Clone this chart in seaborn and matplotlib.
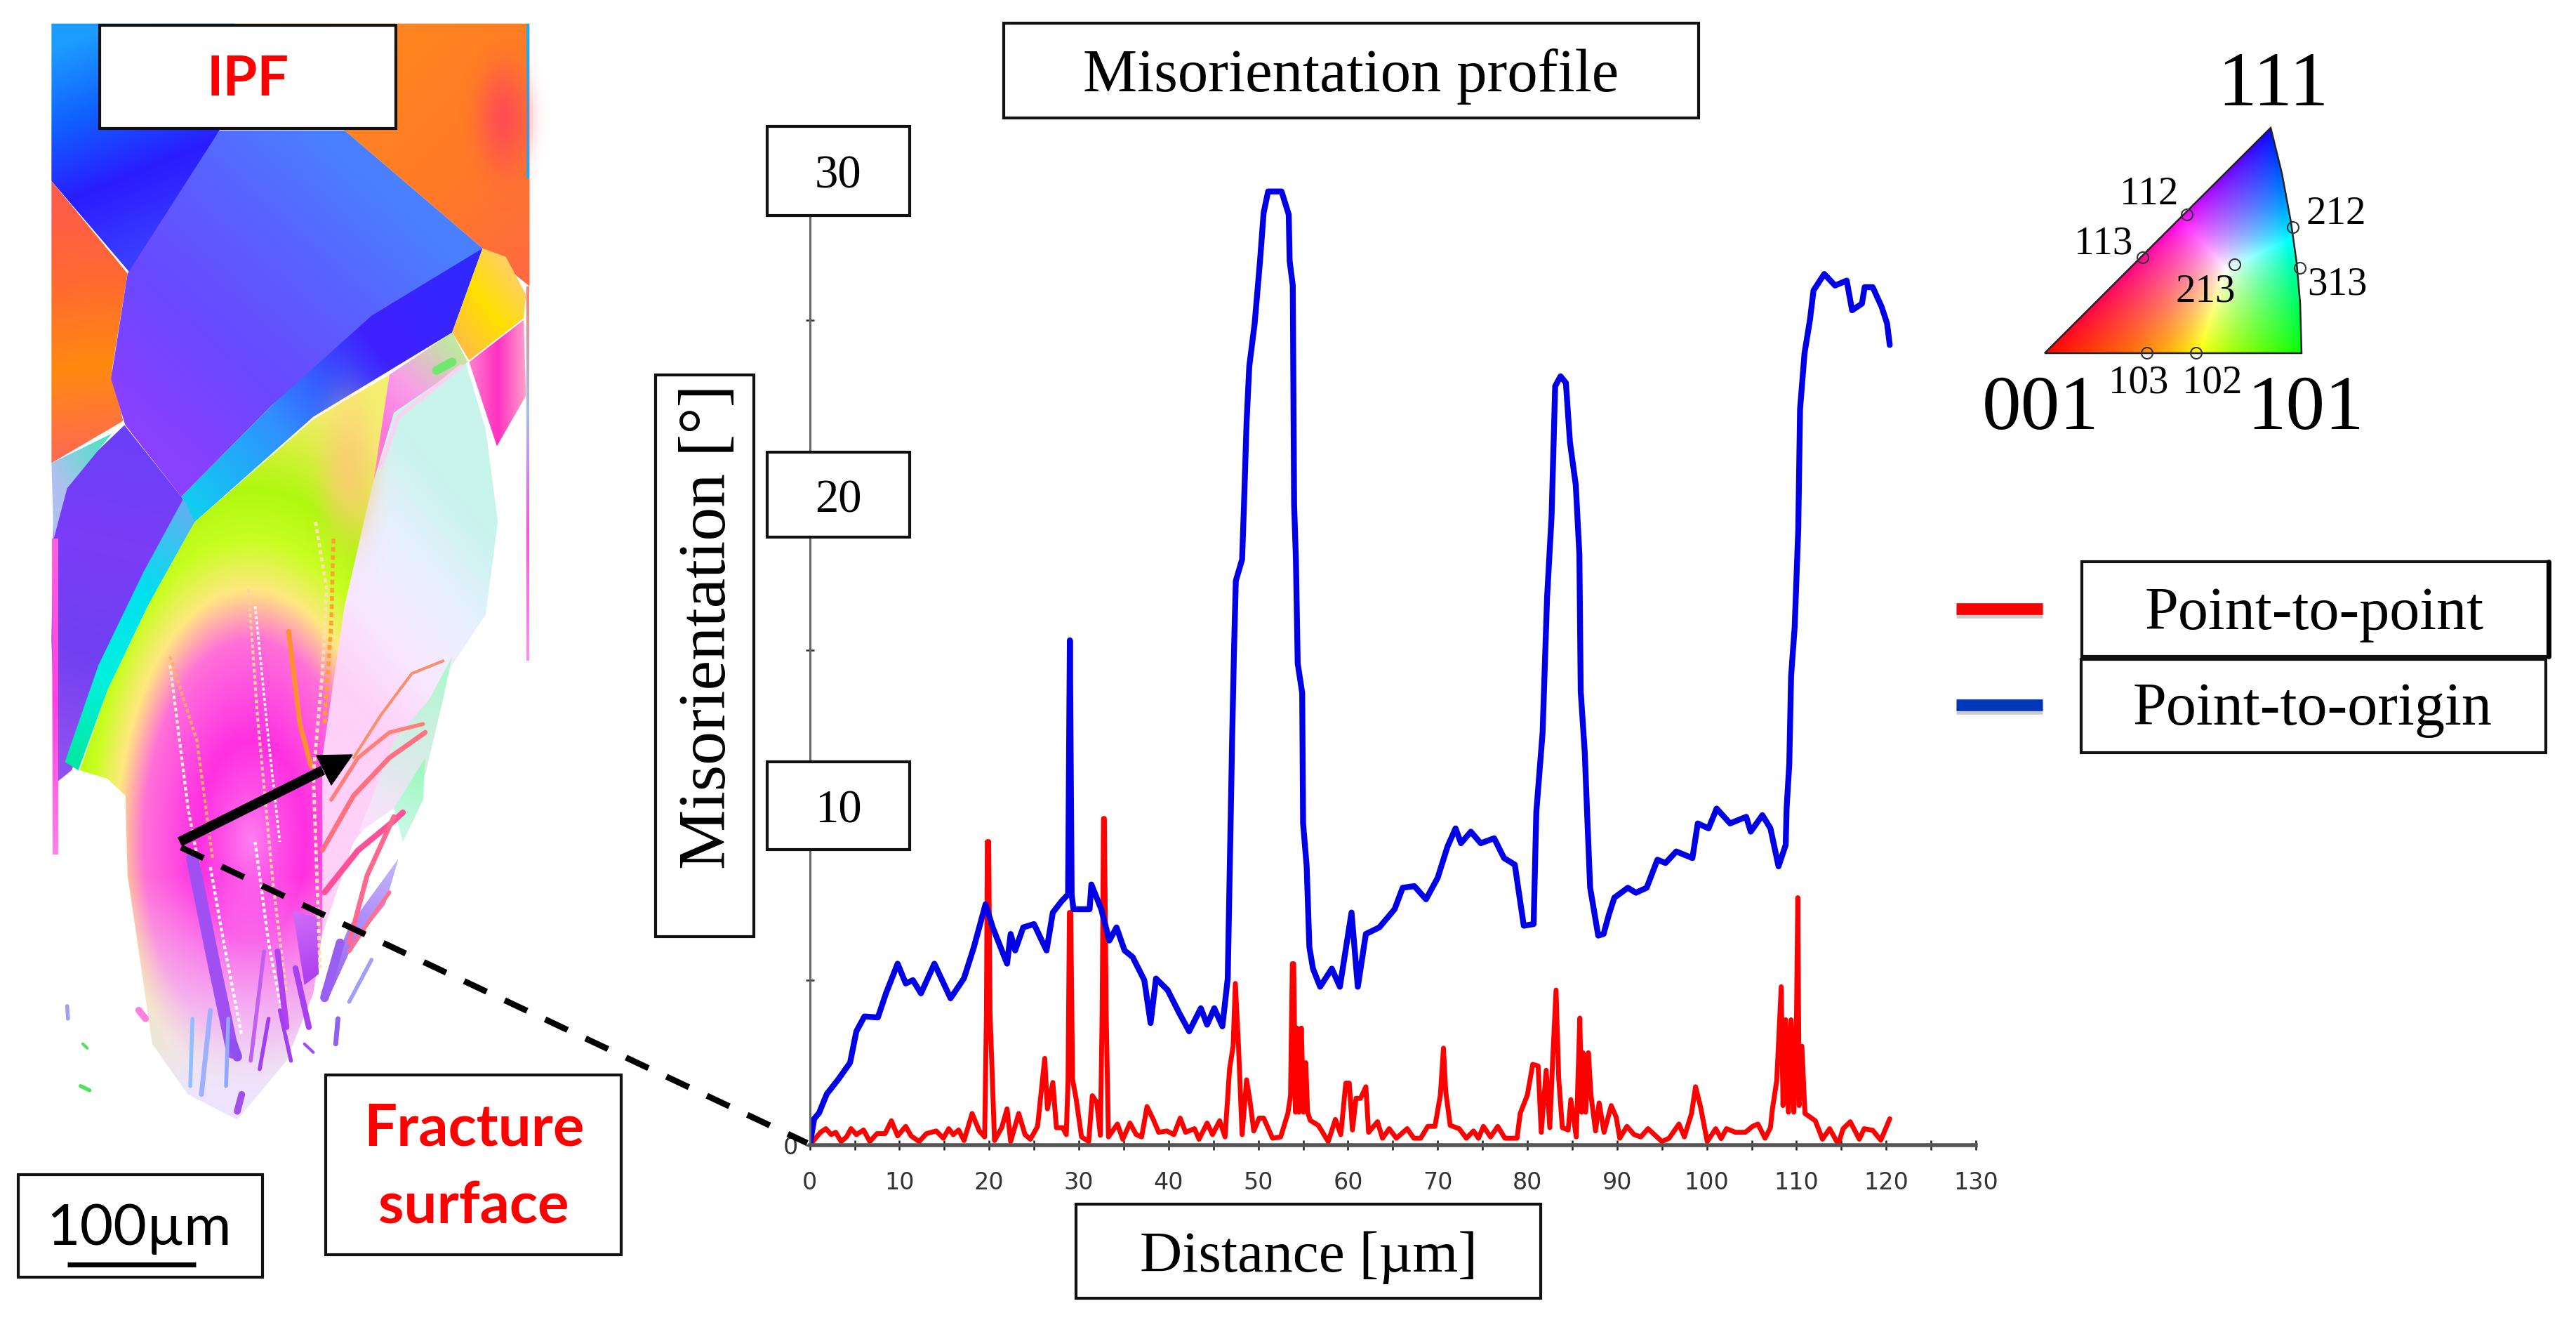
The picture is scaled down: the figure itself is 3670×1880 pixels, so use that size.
import numpy as np
import pandas as pd
import matplotlib.pyplot as plt
from matplotlib.colors import to_rgb
from matplotlib.patches import Polygon, Rectangle, Circle
import seaborn as sns

sns.set_theme(style="white")
plt.rcParams['font.family'] = ['DejaVu Sans']

SERIF = 'Liberation Serif'
SANS = 'Lato'

# misorientation profile values
origin_x = [0, 0.5, 1.05, 1.9, 3.2, 4.5, 5.2, 6.1, 7.6, 8.5, 9.8, 10.7, 11.5, 12.4, 13.9, 15.7, 17.2, 18.3, 19.6, 20.4,
            22, 22.4, 22.9, 23.8, 25, 26.4, 27.1, 28.1, 28.8, 29, 29.2, 29.4, 31.2, 31.4, 32.5, 33.4, 34.2, 35.1, 36, 37.3,
            38, 38.6, 39.9, 41.2, 42.3, 43.6, 44.3, 45.1, 46, 46.6, 46.8, 47.1, 47.3, 47.5, 48.2, 48.4, 48.7, 49, 49.6, 50.2,
            50.6, 51.1, 52.6, 53.4, 53.5, 53.85, 54, 54.2, 54.4, 54.9, 55, 55.4, 55.7, 56.1, 56.9, 58.2, 59.1, 60.4, 61.1, 62,
            63.5, 65.2, 66.1, 67.4, 68.7, 70, 71.1, 72, 72.6, 73.7, 74.8, 76.3, 77.4, 78.6, 79.6, 80.7, 81, 81.7, 82.2, 82.7,
            83.1, 83.7, 84.3, 84.75, 85.4, 85.8, 85.95, 86.4, 86.7, 87, 87.9, 88.5, 89.1, 89.7, 91.2, 92.1, 93.3, 94.5, 95.4, 96.6,
            98.4, 99, 100.2, 101.1, 102.6, 104.4, 104.9, 106.2, 107.1, 108, 108.8, 108.9, 109.2, 109.4, 109.8, 110.2, 110.4, 110.9, 111.5, 111.9,
            113.1, 114.3, 115.6, 116.2, 117.3, 117.6, 118.5, 119.5, 120.1, 120.4]
origin_y = [0, 0.8, 0.98, 1.55, 2.0, 2.5, 3.45, 3.9, 3.87, 4.6, 5.5, 4.9, 5.0, 4.6, 5.5, 4.45, 5.06, 6.0, 7.3, 6.6,
            5.5, 6.4, 5.9, 6.6, 6.7, 5.9, 7.05, 7.4, 7.6, 15.3, 7.6, 7.15, 7.15, 7.9, 7.15, 6.2, 6.6, 5.9, 5.7, 5.0,
            3.7, 5.05, 4.7, 4.0, 3.45, 4.15, 3.65, 4.15, 3.6, 5.05, 8.05, 12.45, 15, 17.1, 17.75, 19.3, 21.9, 23.6, 24.9, 26.8,
            28.25, 28.9, 28.9, 28.2, 26.8, 26.05, 19.4, 17.75, 14.6, 13.7, 9.75, 8.45, 6.0, 5.35, 4.8, 5.35, 4.8, 7.05, 4.8, 6.4,
            6.6, 7.15, 7.8, 7.85, 7.45, 8.1, 9.05, 9.6, 9.15, 9.5, 9.15, 9.3, 8.7, 8.5, 6.65, 6.7, 10.1, 12.5, 16.6, 19.05,
            23, 23.3, 23.1, 21.3, 20, 17.9, 13.75, 11.9, 9.8, 7.8, 6.35, 6.4, 7.0, 7.5, 7.8, 7.65, 7.8, 8.65, 8.55, 8.9,
            8.7, 9.75, 9.6, 10.2, 9.75, 9.95, 9.5, 10, 9.6, 8.45, 9.1, 10.2, 11.55, 14.2, 15.7, 18.65, 22.3, 24, 25, 25.9,
            26.4, 26.05, 26.2, 25.3, 25.5, 26, 26, 25.4, 24.9, 24.25]

point_x = [0, 1.2, 1.8, 2.4, 2.9, 3.5, 4.1, 4.6, 5.2, 6.0, 6.7, 7.5, 8.4, 9.1, 9.8, 10.7, 11.3, 12.2, 13.0, 14.1,
           14.9, 15.5, 16.0, 16.6, 17.2, 18.1, 18.9, 19.5, 19.7, 19.8, 19.95, 20.1, 20.6, 21.4, 22, 22.4, 23.3, 24, 24.6, 25.4,
           26.2, 26.5, 27.1, 27.5, 28.2, 28.6, 28.8, 28.95, 29.1, 29.3, 29.7, 30.3, 31.1, 31.5, 32, 32.4, 32.6, 32.75, 32.85, 33.05,
           33.3, 34.3, 34.9, 35.7, 36.4, 37, 37.6, 38.3, 38.9, 39.8, 40.6, 41.3, 41.9, 42.9, 43.4, 44.3, 44.9, 45.7, 46.3, 46.8,
           47.2, 47.45, 47.8, 48.2, 48.7, 49.1, 49.5, 50.1, 50.6, 51.6, 52.5, 53.3, 53.6, 53.8, 53.95, 54.15, 54.3, 54.55, 54.8, 55.05, 55.3, 55.5, 55.8,
           56.7, 57.8, 58.6, 59.2, 59.76, 60.15, 60.5, 60.9, 61.4, 62, 62.3, 63.3, 63.85, 64.6, 65.4, 66.6, 67.35, 68.1, 68.9, 69.7,
           70.3, 70.65, 70.9, 71.4, 72.4, 73.2, 74, 74.55, 75.1, 75.9, 76.7, 77.5, 78.85, 79.2, 80, 80.6, 81.2, 81.55, 82.1, 82.5,
           82.85, 83.2, 83.5, 83.9, 84.55, 84.85, 85.45, 85.85, 86.05, 86.2, 86.5, 86.8, 87.1, 87.6, 88, 88.55, 89.35, 89.9, 90.3, 91.1, 91.9, 92.65,
           93.45, 95, 95.8, 96.9, 97.5, 98.3, 98.75, 99.3, 100.05, 101, 101.6, 102.2, 103.2, 104.3, 105.1, 105.7, 106.5, 107.1, 107.3, 107.8,
           108.3, 108.5, 108.8, 109.1, 109.4, 109.7, 110, 110.15, 110.3, 110.6, 110.95, 112.1, 112.9, 113.7, 114.65, 115.2, 116, 117, 117.55, 118.5, 119.4, 120.4]
point_y = [0, .39, .5, .32, .39, .11, .25, .5, .32, .46, .11, .35, .35, .74, .28, .57, .28, .11, .35, .43,
           .21, .5, .32, .46, .14, .96, .43, .25, 4, 9.2, 9.2, 4, .14, .53, 1.1, .11, .96, .32, .18, .57,
           2.63, 1.1, 1.9, .53, .53, .32, 2, 7.05, 7.05, 2, 1.4, .25, .11, 1.5, 1.3, .3, 4, 9.9, 9.9, 4,
           .25, .64, .18, .67, .32, .25, 1.17, .78, .39, .43, .32, .82, .39, .5, .18, .67, .32, .74, .25, 2.3,
           3, 4.9, 3, .32, 1.98, 1.3, .43, .82, .82, .21, .25, .96, 1.5, 5.5, 5.5, 1.0, 3.55, 1.0, 3.55, 1.0, 2.5, 1.0, .75,
           .6, .11, .78, .32, 1.88, 1.88, .46, 1.42, 1.42, 1.77, .39, .71, .21, .5, .21, .5, .21, .21, .57, .57,
           1.52, 2.94, 1.63, .6, .5, .21, .43, .21, .57, .25, .57, .21, .21, .96, 1.52, 2.45, 2.4, .39, 2.27, .53,
           2.73, 4.7, 2.0, .53, .46, 1.38, .25, 3.85, 1.0, 2.8, 1.0, 2.8, 1.5, .43, 1.28, .39, 1.2, .85, .21, .57, .32, .25,
           .5, .11, .21, .64, .25, .96, 1.77, 1.17, .11, .5, .2, .5, .39, .39, .57, .64, .21, .53, 1.06, 1.95,
           4.8, 1.2, 3.8, 1.0, 3.8, 1.0, 3.8, 7.5, 1.2, 3.0, .96, .74, .18, .5, .03, .5, .71, .18, .5, .45, .15, .8]

x_ticks = list(range(0, 135, 5))
x_labels = [str(t) if t % 10 == 0 else '' for t in x_ticks]
y_ticks = list(range(0, 35, 5))
y_labels = ['0', '', '', '', '', '', '']
y_box_labels = ['10', '20', '30']

W, H = 3670, 1880
fig = plt.figure(figsize=(W / 100, H / 100), dpi=100)

# chart
ax = fig.add_axes([1153.6 / W, (H - 1631) / H, 1661.4 / W, 1410 / H])
ax.patch.set_alpha(0)
df_point = pd.DataFrame({'x': point_x, 'y': point_y})
df_origin = pd.DataFrame({'x': origin_x, 'y': origin_y})
sns.lineplot(data=df_point, x='x', y='y', color='#ff0000', lw=5, ax=ax, errorbar=None, sort=False)
sns.lineplot(data=df_origin, x='x', y='y', color='#0000e6', lw=6, ax=ax, errorbar=None, sort=False)
ax.set_xlim(0, 130)
ax.set_ylim(0, 30)
ax.set_xticks(x_ticks, x_labels)
ax.set_yticks(y_ticks, y_labels)
ax.set_xlabel('')
ax.set_ylabel('')
ax.tick_params(axis='x', direction='inout', length=10, width=1.8, color='#222222', labelsize=24,
               labelcolor='#333333', pad=22, bottom=True)
ax.tick_params(axis='y', direction='inout', length=8, width=1.8, color='#333333', labelsize=24,
               labelcolor='#333333', pad=8, left=True)
sns.despine(ax=ax)
ax.spines['left'].set_color('#666666')
ax.spines['left'].set_linewidth(2.2)
ax.spines['bottom'].set_color('#555555')
ax.spines['bottom'].set_linewidth(4)

# overlay in picture pixels
ov = fig.add_axes([0, 0, 1, 1], zorder=5)
ov.patch.set_alpha(0)
ov.axis('off')


def gx(p):
    # micrograph shapes were measured on a stretched crop
    return [(a / 1.568, b / 0.834) for a, b in p]


def grid_for(poly):
    xs = [q[0] for q in poly]
    ys = [q[1] for q in poly]
    ext = (min(xs), max(xs), max(ys), min(ys))
    return ext, np.meshgrid(np.linspace(ext[0], ext[1], 400), np.linspace(ext[3], ext[2], 400))


def ramp(t, stops):
    pos = np.linspace(0, 1, len(stops))
    cols = np.array([to_rgb(c) for c in stops])
    return np.dstack([np.interp(t, pos, cols[:, i]) for i in range(3)])


def grad(poly, stops, p0, p1, z=1):
    poly = gx(poly)
    a, b = gx([p0, p1])
    ext, (xx, yy) = grid_for(poly)
    d = np.array(b) - np.array(a)
    t = ((xx - a[0]) * d[0] + (yy - a[1]) * d[1]) / (d @ d)
    im = ov.imshow(ramp(t, stops), extent=ext, aspect='auto', interpolation='bilinear', zorder=z)
    im.set_clip_path(Polygon(poly, closed=True, transform=ov.transData))


def soft(cx, cy, rx, ry, color, alpha=1.0, z=2):
    (cx, cy), = gx([(cx, cy)])
    rx, ry = rx / 1.568, ry / 0.834
    xx, yy = np.meshgrid(np.linspace(cx - 2 * rx, cx + 2 * rx, 120), np.linspace(cy - 2 * ry, cy + 2 * ry, 120))
    a = alpha * np.exp(-((xx - cx) / rx) ** 2 - ((yy - cy) / ry) ** 2)
    a = np.clip(a, 0, 1) * np.clip(2 - np.hypot((xx - cx) / rx, (yy - cy) / ry), 0, 1)
    rgba = np.dstack([np.full_like(a, v) for v in to_rgb(color)] + [a])
    ov.imshow(rgba, extent=(cx - 2 * rx, cx + 2 * rx, cy + 2 * ry, cy - 2 * ry), aspect='auto',
              interpolation='bilinear', zorder=z)


def stroke(p, c, lw, z=3, ls='-'):
    q = gx(p)
    ov.plot([a for a, b in q], [b for a, b in q], color=c, lw=lw, zorder=z, ls=ls, solid_capstyle='round')


# grains of the IPF map
grad([(115, 28), (525, 28), (490, 155), (300, 330), (115, 215)], ['#1d9cff', '#1060ff', '#2a1cff', '#3a3cff'], (115, 60), (300, 300))
grad([(525, 28), (1183, 28), (1183, 340), (1078, 295), (770, 155)], ['#ff8a3a', '#ff8420', '#ff7a28', '#ff6a40'], (600, 28), (1170, 330))
soft(1125, 140, 55, 60, '#ff4a58', 0.9)
grad([(115, 215), (285, 325), (250, 440), (275, 500), (115, 550)], ['#ff5c4a', '#ff6a30', '#ff8a10', '#ff6a50'], (115, 240), (180, 540))
grad([(490, 155), (770, 155), (1078, 295), (830, 385), (610, 480), (405, 590), (280, 505), (248, 450), (285, 325)],
     ['#4a80ff', '#5a60ff', '#6a48ff', '#8a40ff'], (800, 200), (300, 500))
grad([(1078, 295), (1010, 395), (700, 495), (435, 620), (405, 590), (610, 480), (830, 375)],
     ['#3028ff', '#4020ff', '#3090ff', '#10d0f0'], (1060, 320), (420, 610))
grad([(278, 505), (405, 590), (435, 620), (330, 710), (230, 820), (160, 915), (125, 930), (115, 760), (120, 590), (150, 570)],
     ['#6a40f8', '#7a3cf8', '#7040f0', '#9050f0'], (300, 520), (130, 900))
grad([(115, 550), (250, 515), (150, 580), (120, 640)], ['#b0c0f0', '#40e8c0'], (115, 560), (250, 520))
grad([(435, 620), (330, 720), (240, 820), (175, 915), (145, 905), (220, 790), (320, 680), (410, 592)],
     ['#60b0f0', '#00e0f0', '#00f0e0', '#00e8a0'], (425, 605), (160, 910))

# green to pink fan, rings around the fracture origin
fan = gx([(435, 620), (700, 498), (870, 445), (840, 560), (770, 720), (730, 870), (722, 1100), (700, 1180), (640, 1260), (530, 1330),
          (420, 1300), (340, 1240), (310, 1130), (285, 1040), (280, 945), (240, 925), (178, 915), (240, 820), (335, 715)])
ext, (xx, yy) = grid_for(fan)
zx, zy = xx * 1.568, yy * 0.834
r = np.hypot(zx - 560, zy - 1000)
fan_rgb = ramp(r / 540, ['#ff80f0', '#ff50e8', '#ff30e0', '#ff50e0', '#ff70d8', '#ffe880', '#c8ff20', '#b0f810', '#d8f040', '#f4f070'])
pale = np.clip((zy - 1040) / 260, 0, 1)[..., None]
fan_rgb = fan_rgb * (1 - pale) + np.array(to_rgb('#eee4ff')) * pale
im = ov.imshow(fan_rgb, extent=ext, aspect='auto', interpolation='bilinear', zorder=1)
im.set_clip_path(Polygon(fan, closed=True, transform=ov.transData))
soft(780, 560, 60, 80, '#ffc878', 0.8)

# pale fan on the right
grad([(1040, 430), (1085, 510), (1112, 620), (1085, 730), (1010, 790), (940, 860), (880, 940), (790, 1000), (720, 1110), (720, 900),
      (770, 720), (830, 580), (880, 480)],
     ['#ffd0f8', '#f8e8ff', '#e8f0ff', '#c8f4ec'], (740, 800), (1100, 640))
grad([(870, 445), (1010, 395), (1045, 430), (880, 490), (835, 570)], ['#ff70e0', '#f8a0e8', '#c0e8a0'], (850, 520), (1030, 420))
grad([(1010, 780), (960, 830), (880, 880), (800, 990), (880, 960), (950, 920), (990, 830)], ['#ffe0ff', '#b0f8d0'], (800, 980), (1000, 800))
grad([(880, 960), (950, 900), (945, 950), (900, 1000)], ['#c8f8e8', '#a0f8c0'], (880, 980), (950, 920))
grad([(720, 1180), (780, 1100), (890, 1020), (860, 1075), (790, 1120), (730, 1190)], ['#9860f0', '#c0b0ff'], (720, 1180), (880, 1030))
grad([(654, 1082), (710, 1090), (712, 1157), (680, 1170)], ['#d070f8', '#b040f0'], (650, 1080), (700, 1160), z=2)
# small grains at the top right
grad([(1078, 295), (1130, 305), (1175, 350), (1170, 378), (1048, 428), (1010, 395)], ['#ffc040', '#ffe000', '#ffd060'], (1020, 400), (1170, 340))
grad([(1048, 430), (1170, 380), (1175, 470), (1110, 530)], ['#ff80d0', '#ff30c0', '#ffa0c8'], (1050, 450), (1175, 450))
stroke([(850, 555), (890, 495), (1030, 435)], '#ffd0f4', 4)
stroke([(975, 440), (1010, 430)], '#70e870', 9)
# edge strips
grad([(1176, 28), (1183, 28), (1183, 212), (1176, 212)], ['#10b0ff', '#10b0ff'], (1176, 30), (1176, 200))
grad([(1176, 340), (1183, 340), (1183, 785), (1176, 785)], ['#ff8070', '#a0c0f0', '#ff50e0', '#ff90f0'], (1176, 340), (1176, 780))
grad([(116, 640), (130, 640), (130, 1015), (118, 1015)], ['#ff60e0', '#ff40e0', '#ff80e8'], (116, 650), (116, 1010))

# lamellae and arcs in the fan
DOT = (0, (1.2, 0.9))
for p, c, lw, ls in [
        ([(380, 790), (420, 960), (445, 1030)], '#fff0d0', 3, DOT),
        ([(380, 780), (440, 880), (475, 1020)], '#ffb060', 3, DOT),
        ([(555, 700), (575, 850), (610, 1050), (640, 1180)], '#ffd0a0', 3, DOT),
        ([(570, 720), (600, 880), (625, 1000)], '#ffffff', 2.5, DOT),
        ([(645, 750), (670, 860), (695, 910)], '#ff9030', 5, '-'),
        ([(705, 620), (730, 700), (720, 800), (700, 920), (715, 1150)], '#ffe0b0', 3.5, DOT),
        ([(745, 640), (740, 740), (725, 860)], '#ffa030', 4, DOT),
        ([(440, 1040), (500, 1180), (530, 1250)], '#ffffff', 3, DOT),
        ([(470, 1030), (500, 1120), (540, 1230)], '#ffffff', 3, DOT),
        ([(570, 1000), (600, 1120), (640, 1230)], '#ffffff', 3, DOT),
        ([(790, 900), (850, 850), (920, 800), (990, 785)], '#f89070', 3, '-'),
        ([(740, 950), (800, 900), (870, 870), (945, 860)], '#ff8078', 4, '-'),
        ([(720, 1010), (790, 945), (870, 900), (950, 870)], '#ff7080', 5, '-'),
        ([(725, 1060), (800, 1010), (880, 975), (900, 965)], '#ff5098', 6, '-'),
        ([(780, 1120), (820, 1040), (880, 970)], '#ff6890', 5, '-'),
        ([(780, 1130), (830, 1090), (870, 1060)], '#ff7090', 4, '-')]:
    stroke(p, c, lw, ls=ls)
for p, c, lw in [
        ([(430, 1020), (480, 1150), (520, 1250)], '#a050f0', 13),
        ([(520, 1240), (530, 1255)], '#9050f0', 10),
        ([(620, 1130), (640, 1220)], '#b040f0', 6),
        ([(660, 1150), (690, 1220)], '#a840f0', 6),
        ([(590, 1130), (560, 1260)], '#c060f0', 4),
        ([(470, 1200), (450, 1300)], '#a0b0ff', 5),
        ([(510, 1210), (505, 1290)], '#90a8ff', 4),
        ([(430, 1210), (425, 1290)], '#90c0ff', 4),
        ([(540, 1300), (530, 1320)], '#a050e8', 7),
        ([(600, 1210), (580, 1270)], '#a040f0', 4),
        ([(625, 1200), (650, 1260)], '#a040f0', 4),
        ([(725, 1185), (760, 1120)], '#9860f0', 9),
        ([(780, 1190), (830, 1140)], '#a0a0f8', 4),
        ([(755, 1210), (750, 1240)], '#9060f0', 5),
        ([(680, 1240), (700, 1250)], '#a050e8', 3),
        ([(310, 1200), (325, 1210)], '#ff80e0', 7),
        ([(150, 1195), (152, 1210)], '#a0a0f0', 4),
        ([(180, 1290), (200, 1295)], '#50e060', 4),
        ([(185, 1240), (195, 1245)], '#50e060', 3)]:
    stroke(p, c, lw)

# scale, grain and dashed guide
ov.plot([258, 1150], [1207, 1628], color='black', lw=6.2, ls=(0, (4.1, 3.3)), dash_capstyle='butt', zorder=6)
ov.plot([256, 460], [1199, 1097], color='black', lw=10, solid_capstyle='butt', zorder=6)
ov.add_patch(Polygon([(502, 1075), (451, 1076), (472, 1118)], closed=True, color='black', zorder=6))


def box(x0, y0, x1, y1, lw=3.0):
    ov.add_patch(Rectangle((x0, y0), x1 - x0, y1 - y0, fc='white', ec='#111111', lw=lw, zorder=7))


def label(x, y, s, size, color='black', family=SERIF, **kw):
    ov.text(x, y, s, fontsize=size, color=color, family=family, ha='center', va='center', zorder=8, **kw)


box(142, 36, 564, 183)
label(353, 114, 'IPF', 57, '#ff0000', SANS, fontweight='bold')
box(464, 1531, 885, 1787)
label(675, 1608, 'Fracture', 60, '#ff0000', SANS, fontweight='bold')
label(675, 1719, 'surface', 60, '#ff0000', SANS, fontweight='bold')
box(26, 1673, 374, 1819)
label(198, 1750, '100µm', 59, 'black', SANS)
ov.plot([96, 279], [1801, 1801], color='black', lw=5, zorder=8, solid_capstyle='butt')

box(1430, 33, 2420, 168)
label(1925, 109, 'Misorientation profile', 62.5)
box(934, 534, 1074, 1334)
label(1010, 893, 'Misorientation [°]', 69, rotation=90)
box(1533, 1715, 2195, 1849)
label(1864, 1791, 'Distance [µm]', 60)
for s, y0, y1 in zip(y_box_labels, [1085, 644, 180], [1210, 765, 307]):
    box(1093, y0, 1296, y1)
    label(1194, (y0 + y1) / 2 + 8, s, 48)

# legend drawn by hand
box(2966, 800, 3631, 935)
ov.plot([3631, 3631], [800, 935], color='black', lw=5, zorder=8)
label(3297, 875, 'Point-to-point', 62)
box(2965, 939, 3627, 1072)
label(3294, 1011, 'Point-to-origin', 62)
for y, c in [(867, '#ff0000'), (1004, '#0038b8')]:
    ov.plot([2787, 2910], [y + 5, y + 5], color='#cccccc', lw=12, solid_capstyle='butt', zorder=6)
    ov.plot([2787, 2910], [y, y], color=c, lw=12, solid_capstyle='butt', zorder=7)

# IPF colour key
tri = [(2913, 503), (3235, 182), (3251, 247), (3264, 317), (3272, 374), (3277, 432), (3279, 503)]
A, B, C = np.array([2913, 503.]), np.array([3279, 503.]), np.array([3235, 182.])
kx, ky = np.meshgrid(np.linspace(2900, 3290, 400), np.linspace(175, 510, 340))
Tm = np.array([[A[0] - C[0], B[0] - C[0]], [A[1] - C[1], B[1] - C[1]]])
Ti = np.linalg.inv(Tm)
wa = Ti[0, 0] * (kx - C[0]) + Ti[0, 1] * (ky - C[1])
wb = Ti[1, 0] * (kx - C[0]) + Ti[1, 1] * (ky - C[1])
wc = 1 - wa - wb
rgb = np.clip(np.dstack([wa * 1.5, wb, wc]), 0, 1.5) ** 0.75
rgb = rgb / np.maximum(rgb.max(axis=2, keepdims=True), 1e-6)
key = ov.imshow(rgb, extent=(2900, 3290, 510, 175), aspect='auto', interpolation='bilinear', zorder=3)
key.set_clip_path(Polygon(tri, closed=True, transform=ov.transData))
ov.add_patch(Polygon(tri, closed=True, fc='none', ec='#222222', lw=1.8, zorder=4))
for cx, cy in [(3116, 306), (3053, 367), (3267, 324), (3277, 382), (3184, 377), (3059, 503), (3129, 503)]:
    ov.add_patch(Circle((cx, cy), 8, fc='none', ec='#333333', lw=1.5, zorder=5))
for s, x, y in [('001', 2907, 584), ('101', 3285, 584), ('111', 3238, 123)]:
    label(x, y, s, 80)
for s, x, y in [('112', 3062, 277), ('113', 2997, 348), ('212', 3328, 305), ('313', 3330, 406), ('213', 3142, 416),
                ('103', 3047, 545), ('102', 3152, 545)]:
    label(x, y, s, 41)

ov.set_xlim(0, W)
ov.set_ylim(H, 0)
fig.savefig('out.png', dpi=100)
plt.close(fig)
